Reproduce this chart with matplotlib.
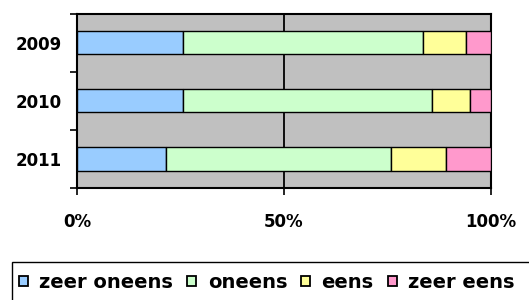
import matplotlib
matplotlib.use("Agg")
import matplotlib.pyplot as plt
from matplotlib.patches import Rectangle
import numpy as np

years = ["2009", "2010", "2011"]
series_names = ["zeer oneens", "oneens", "eens", "zeer eens"]
zeer_oneens = [25.6, 25.6, 21.4]
oneens = [57.9, 60.2, 54.4]
eens = [10.4, 9.1, 13.4]
zeer_eens = [6.1, 5.1, 10.8]
colors = ["#99CCFF", "#CCFFCC", "#FFFF99", "#FF99CC"]
xticks = [0, 50, 100]
xticklabels = ["0%", "50%", "100%"]

plt.rcParams["font.family"] = ["DejaVu Sans"]
plt.rcParams["font.weight"] = "bold"

W, H = 529, 300
fig = plt.figure(figsize=(W / 100, H / 100), dpi=100)
ax = fig.add_axes([77 / W, 1 - 188 / H, (491 - 77) / W, (188 - 13.5) / H])
ax.set_facecolor("#C0C0C0")

y = np.arange(len(years))
left = np.zeros(len(years))
handles = []
for name, vals, c in zip(series_names, [zeer_oneens, oneens, eens, zeer_eens], colors):
    b = ax.barh(y, vals, left=left, height=0.4, color=c, edgecolor="black",
                linewidth=1.0, label=name, zorder=3)
    handles.append(b)
    left = left + np.array(vals)

ax.set_xlim(0, 100)
ax.set_ylim(len(years) - 0.5, -0.5)

ax.set_xticks(xticks)
ax.set_xticklabels(xticklabels, fontsize=12, fontweight="bold")
ax.set_yticks(np.arange(-0.5, len(years), 1.0))
ax.set_yticklabels([])
ax.set_yticks(y, minor=True)
ax.set_yticklabels(years, minor=True, fontsize=12, fontweight="bold")
ax.tick_params(axis="y", which="major", direction="out", length=5, width=1.2, color="black")
ax.tick_params(axis="y", which="minor", length=0, pad=11)
ax.tick_params(axis="x", which="major", direction="out", length=5, width=1.2, pad=13)

ax.set_axisbelow(True)
ax.xaxis.grid(True, color="black", linewidth=1.3)
ax.yaxis.grid(False)
for s in ax.spines.values():
    s.set_color("black")
    s.set_linewidth(1.5)

# legend frame (extends past the figure edge as in the reference)
fig.patches.append(Rectangle((12 / W, -0.1), 1.2, 1 - 262 / H + 0.1,
                             transform=fig.transFigure, facecolor="white",
                             edgecolor="black", linewidth=1.0, zorder=1))

leg = fig.legend(handles=handles, labels=series_names, loc="upper left",
                 bbox_to_anchor=(19 / W, 1 - 273 / H), ncol=4,
                 frameon=False,
                 prop={"size": 14, "weight": "bold"},
                 handlelength=0.45, handleheight=0.45, handletextpad=0.6,
                 columnspacing=0.72, borderpad=0, borderaxespad=0)
leg.set_zorder(2)
for h in leg.legend_handles:
    h.set_linewidth(1.3)

fig.savefig("out.png", dpi=100)
